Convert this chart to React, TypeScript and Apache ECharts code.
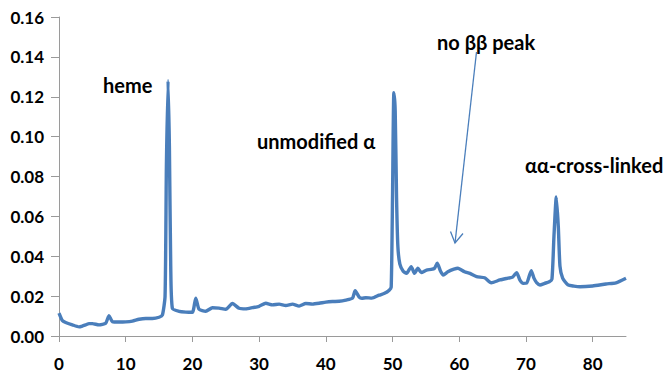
import React, { useEffect, useRef } from "react";
import * as echarts from "echarts";

const retentionTime: number[] = [
  0, 0.5, 1, 2, 3, 3.5, 4, 4.5, 5, 6, 7, 7.5, 8, 9, 10, 11, 12, 13, 14, 15, 15.5,
  15.9, 16.1, 16.35, 16.55, 16.75, 17, 18, 19, 20, 20.5, 21, 22, 23, 24, 25, 26, 27,
  28, 29, 30, 31, 32, 33, 34, 35, 36, 37, 38, 39, 40, 41, 42, 43, 44, 44.4, 45, 45.4,
  46, 46.9, 48, 48.8, 49.5, 49.8, 50.0, 50.2, 50.4, 50.6, 50.8, 51.1, 51.6, 52.1,
  52.8, 53.3, 53.8, 54.3, 55.1, 55.8, 56.3, 56.7, 57.2, 57.6, 58.3, 59.2, 59.8, 60.8,
  61.6, 62.6, 63.8, 64.8, 66.1, 67.3, 68.0, 68.6, 69.1, 69.6, 70.1, 70.8, 71.2, 71.6,
  72.1, 72.8, 73.5, 73.9, 74.2, 74.55, 74.85, 75.1, 75.5, 76.3, 77.2, 78.1, 80, 82,
  83.5, 85,
];

const absorbance: number[] = [
  0.0115, 0.0078, 0.0068, 0.0056, 0.0046, 0.005, 0.0056, 0.0062, 0.0062, 0.0056,
  0.0064, 0.0102, 0.0072, 0.007, 0.0071, 0.0075, 0.0084, 0.0088, 0.0088, 0.0094,
  0.0105, 0.02, 0.085, 0.128, 0.095, 0.035, 0.0138, 0.0124, 0.012, 0.0119, 0.019,
  0.0134, 0.0124, 0.0142, 0.014, 0.0134, 0.0163, 0.0139, 0.0136, 0.0142, 0.0149,
  0.0164, 0.0156, 0.016, 0.0153, 0.016, 0.015, 0.0163, 0.016, 0.0164, 0.017, 0.0173,
  0.0174, 0.018, 0.019, 0.0227, 0.0195, 0.0189, 0.0192, 0.019, 0.0205, 0.0214,
  0.023, 0.0245, 0.07, 0.122, 0.113, 0.07, 0.045, 0.036, 0.0325, 0.0314, 0.0348,
  0.0314, 0.034, 0.0318, 0.0331, 0.0334, 0.034, 0.0365, 0.0325, 0.0306, 0.0322,
  0.0335, 0.034, 0.0322, 0.0314, 0.0298, 0.0292, 0.0267, 0.0281, 0.029, 0.0295,
  0.0318, 0.028, 0.0264, 0.0265, 0.0328, 0.029, 0.0268, 0.0256, 0.0264, 0.0272,
  0.0285, 0.05, 0.0697, 0.055, 0.035, 0.029, 0.0256, 0.025, 0.0247, 0.0251, 0.0261,
  0.0267, 0.029,
];

const xTicks: number[] = [0, 10, 20, 30, 40, 50, 60, 70, 80];

const labels: { text: string; x: number; y: number }[] = [
  { text: "heme", x: 103, y: 85 },
  { text: "unmodified α", x: 257, y: 141 },
  { text: "no ββ peak", x: 437, y: 42 },
  { text: "αα-cross-linked", x: 525, y: 165 },
];

export default function App() {
  const ref = useRef<HTMLDivElement>(null);
  useEffect(() => {
    if (!ref.current) return;
    const chart = echarts.init(ref.current, null, { renderer: "svg" });
    const lineColor = "#4A7EBB";
    const axisColor = "#9a9a9a";
    const font = "Lato, 'Open Sans', sans-serif";
    chart.setOption({
      animation: false,
      grid: { left: 59, right: 45, top: 17, bottom: 39, containLabel: false },
      xAxis: {
        type: "value",
        min: 0,
        max: 85,
        interval: 10,
        splitLine: { show: false },
        axisLine: { show: true, lineStyle: { color: axisColor, width: 1 } },
        axisTick: { show: true, length: 6, customValues: xTicks, lineStyle: { color: axisColor } },
        axisLabel: {
          customValues: xTicks,
          margin: 19,
          color: "#000",
          fontWeight: "bold",
          fontSize: 17,
          lineHeight: 17,
          fontFamily: font,
        },
      },
      yAxis: {
        type: "value",
        min: 0,
        max: 0.16,
        interval: 0.02,
        splitLine: { show: false },
        axisLine: { show: true, lineStyle: { color: axisColor, width: 1 } },
        axisTick: { show: true, length: 8, lineStyle: { color: axisColor } },
        axisLabel: {
          margin: 15,
          color: "#000",
          fontWeight: "bold",
          fontSize: 17,
          fontFamily: font,
          formatter: (v: number) => v.toFixed(2),
        },
      },
      series: [
        {
          type: "line",
          data: retentionTime.map((t, i) => [t, absorbance[i]]),
          showSymbol: false,
          smooth: 0.2,
          lineStyle: { color: lineColor, width: 3.4 },
        },
      ],
      graphic: [
        ...labels.map((l) => ({
          type: "text",
          x: l.x,
          y: l.y,
          style: {
            text: l.text,
            fill: "#000",
            font: `bold 20px ${font}`,
            textVerticalAlign: "middle",
            verticalAlign: "middle",
          },
        })),
        {
          type: "line",
          shape: { x1: 476.5, y1: 52, x2: 455, y2: 243 },
          style: { stroke: lineColor, lineWidth: 1.3 },
        },
        {
          type: "polyline",
          shape: { points: [[450.5, 231.5], [455, 243], [463, 233.5]] },
          style: { stroke: lineColor, lineWidth: 1.3, fill: null },
        },
      ],
    });
    return () => chart.dispose();
  }, []);
  return <div ref={ref} style={{ width: 671, height: 375, position: "absolute", left: 0, top: 0 }} />;
}
